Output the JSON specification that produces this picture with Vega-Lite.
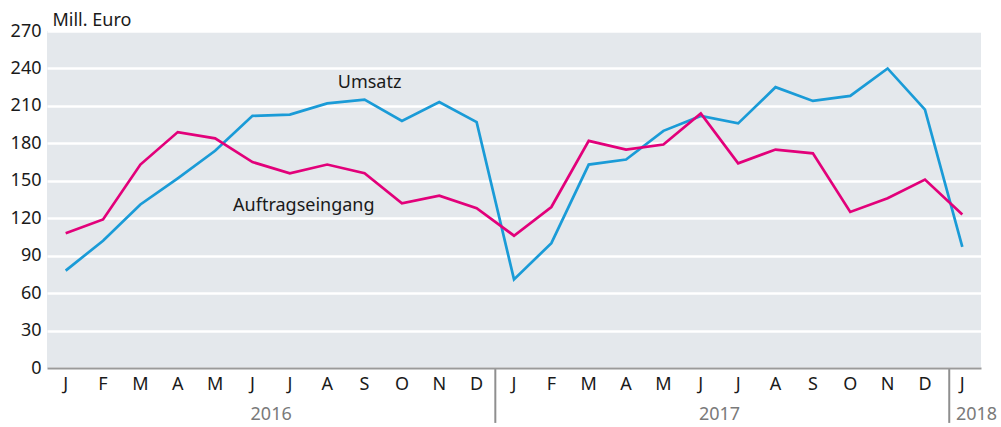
{
  "$schema": "https://vega.github.io/schema/vega-lite/v6.json",
  "width": 934,
  "height": 337,
  "autosize": {"type": "none"},
  "padding": {"left": 47, "top": 31, "right": 20, "bottom": 59},
  "background": "white",
  "config": {
    "view": {"fill": "#e4e8ec", "stroke": null},
    "font": "Noto Sans",
    "axisY": {
      "labelOverlap": false,
      "title": "Mill. Euro", "titleAngle": 0, "titleAlign": "left", "titleBaseline": "middle",
      "titleX": 5, "titleY": -11, "titleFontSize": 18, "titleFontWeight": "normal", "titleColor": "#1a1a1a",
      "labelFontSize": 18, "labelColor": "#1a1a1a", "labelPadding": 6,
      "domain": false, "ticks": false, "gridColor": "white", "gridWidth": 2.5, "zindex": 0
    }
  },
  "datasets": {
    "series": [
      {"m": "2016-01", "s": "Umsatz", "v": 78}, {"m": "2016-02", "s": "Umsatz", "v": 102}, {"m": "2016-03", "s": "Umsatz", "v": 131}, {"m": "2016-04", "s": "Umsatz", "v": 152}, {"m": "2016-05", "s": "Umsatz", "v": 174}, {"m": "2016-06", "s": "Umsatz", "v": 202}, {"m": "2016-07", "s": "Umsatz", "v": 203}, {"m": "2016-08", "s": "Umsatz", "v": 212}, {"m": "2016-09", "s": "Umsatz", "v": 215}, {"m": "2016-10", "s": "Umsatz", "v": 198}, {"m": "2016-11", "s": "Umsatz", "v": 213}, {"m": "2016-12", "s": "Umsatz", "v": 197},
      {"m": "2017-01", "s": "Umsatz", "v": 71}, {"m": "2017-02", "s": "Umsatz", "v": 100}, {"m": "2017-03", "s": "Umsatz", "v": 163}, {"m": "2017-04", "s": "Umsatz", "v": 167}, {"m": "2017-05", "s": "Umsatz", "v": 190}, {"m": "2017-06", "s": "Umsatz", "v": 202}, {"m": "2017-07", "s": "Umsatz", "v": 196}, {"m": "2017-08", "s": "Umsatz", "v": 225}, {"m": "2017-09", "s": "Umsatz", "v": 214}, {"m": "2017-10", "s": "Umsatz", "v": 218}, {"m": "2017-11", "s": "Umsatz", "v": 240}, {"m": "2017-12", "s": "Umsatz", "v": 207}, {"m": "2018-01", "s": "Umsatz", "v": 97},
      {"m": "2016-01", "s": "Auftragseingang", "v": 108}, {"m": "2016-02", "s": "Auftragseingang", "v": 119}, {"m": "2016-03", "s": "Auftragseingang", "v": 163}, {"m": "2016-04", "s": "Auftragseingang", "v": 189}, {"m": "2016-05", "s": "Auftragseingang", "v": 184}, {"m": "2016-06", "s": "Auftragseingang", "v": 165}, {"m": "2016-07", "s": "Auftragseingang", "v": 156}, {"m": "2016-08", "s": "Auftragseingang", "v": 163}, {"m": "2016-09", "s": "Auftragseingang", "v": 156}, {"m": "2016-10", "s": "Auftragseingang", "v": 132}, {"m": "2016-11", "s": "Auftragseingang", "v": 138}, {"m": "2016-12", "s": "Auftragseingang", "v": 128},
      {"m": "2017-01", "s": "Auftragseingang", "v": 106}, {"m": "2017-02", "s": "Auftragseingang", "v": 129}, {"m": "2017-03", "s": "Auftragseingang", "v": 182}, {"m": "2017-04", "s": "Auftragseingang", "v": 175}, {"m": "2017-05", "s": "Auftragseingang", "v": 179}, {"m": "2017-06", "s": "Auftragseingang", "v": 204}, {"m": "2017-07", "s": "Auftragseingang", "v": 164}, {"m": "2017-08", "s": "Auftragseingang", "v": 175}, {"m": "2017-09", "s": "Auftragseingang", "v": 172}, {"m": "2017-10", "s": "Auftragseingang", "v": 125}, {"m": "2017-11", "s": "Auftragseingang", "v": 136}, {"m": "2017-12", "s": "Auftragseingang", "v": 151}, {"m": "2018-01", "s": "Auftragseingang", "v": 123}
    ]
  },
  "layer": [
    {
      "data": {"name": "series"},
      "mark": {"type": "line", "strokeWidth": 2.7},
      "encoding": {
        "x": {
          "field": "m", "type": "ordinal",
          "scale": {"type": "band", "paddingInner": 0, "paddingOuter": 0},
          "axis": {
            "title": null,
            "labelExpr": "substring('JFMAMJJASOND', toNumber(slice(datum.value, 5)) - 1, toNumber(slice(datum.value, 5)))",
            "labelAngle": 0, "labelFontSize": 18, "labelColor": "#1a1a1a", "labelPadding": 7,
            "ticks": false, "grid": false, "domainColor": "#9a9a9a", "domainWidth": 2, "zindex": 1
          }
        },
        "y": {
          "field": "v", "type": "quantitative",
          "scale": {"domain": [0, 270], "nice": false},
          "axis": {"values": [0, 30, 60, 90, 120, 150, 180, 210, 240, 270], "title": "Mill. Euro"}
        },
        "color": {
          "field": "s", "type": "nominal",
          "scale": {"domain": ["Umsatz", "Auftragseingang"], "range": ["#1a9bd7", "#e2007a"]},
          "legend": null
        }
      }
    },
    {
      "data": {"values": [{"m": "2017-01"}]},
      "mark": {"type": "rule", "color": "#8f8f8f", "strokeWidth": 2},
      "encoding": {
        "x": {"field": "m", "type": "ordinal", "bandPosition": 0},
        "y": {"datum": 0, "axis": {"values": [0, 30, 60, 90, 120, 150, 180, 210, 240, 270], "title": "Mill. Euro"}},
        "y2": {"datum": -44}
      }
    },
    {
      "data": {"values": [{"m": "2018-01"}]},
      "mark": {"type": "rule", "color": "#8f8f8f", "strokeWidth": 2},
      "encoding": {
        "x": {"field": "m", "type": "ordinal", "bandPosition": 0.15},
        "y": {"datum": 0, "axis": {"values": [0, 30, 60, 90, 120, 150, 180, 210, 240, 270], "title": "Mill. Euro"}},
        "y2": {"datum": -44}
      }
    },
    {
      "data": {"values": [{"m": "2016-07", "year": "2016"}, {"m": "2017-07", "year": "2017"}]},
      "mark": {"type": "text", "fontSize": 18, "color": "#7a7a7a", "align": "center", "baseline": "middle"},
      "encoding": {
        "x": {"field": "m", "type": "ordinal", "bandPosition": 0},
        "y": {"datum": -38, "axis": {"values": [0, 30, 60, 90, 120, 150, 180, 210, 240, 270], "title": "Mill. Euro"}},
        "text": {"field": "year"}
      }
    },
    {
      "data": {"values": [{"m": "2018-01", "year": "2018"}]},
      "mark": {"type": "text", "fontSize": 18, "color": "#7a7a7a", "align": "left", "baseline": "middle"},
      "encoding": {
        "x": {"field": "m", "type": "ordinal", "bandPosition": 0.33},
        "y": {"datum": -38, "axis": {"values": [0, 30, 60, 90, 120, 150, 180, 210, 240, 270], "title": "Mill. Euro"}},
        "text": {"field": "year"}
      }
    },
    {
      "data": {"values": [{"label": "Umsatz"}]},
      "mark": {"type": "text", "fontSize": 18, "color": "#1a1a1a", "align": "center", "baseline": "middle", "dx": 5},
      "encoding": {
        "x": {"datum": "2016-09"},
        "y": {"datum": 228, "axis": {"values": [0, 30, 60, 90, 120, 150, 180, 210, 240, 270], "title": "Mill. Euro"}},
        "text": {"field": "label"}
      }
    },
    {
      "data": {"values": [{"label": "Auftragseingang"}]},
      "mark": {"type": "text", "fontSize": 18, "color": "#1a1a1a", "align": "center", "baseline": "middle", "dx": 14},
      "encoding": {
        "x": {"datum": "2016-07"},
        "y": {"datum": 130, "axis": {"values": [0, 30, 60, 90, 120, 150, 180, 210, 240, 270], "title": "Mill. Euro"}},
        "text": {"field": "label"}
      }
    }
  ]
}
